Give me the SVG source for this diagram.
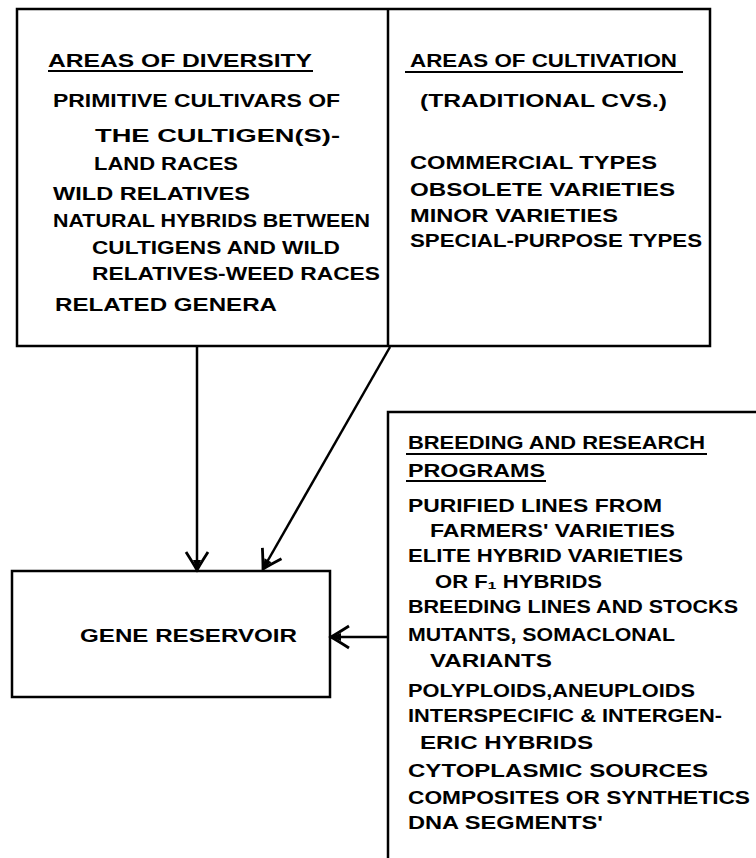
<svg xmlns="http://www.w3.org/2000/svg" width="756" height="858" viewBox="0 0 756 858">
<style>
.t{font-family:"Liberation Sans",Arial,sans-serif;font-weight:bold;font-size:19px;fill:#000}
.b{fill:none;stroke:#000;stroke-width:2.5}
.c{fill:none;stroke:#000;stroke-width:2.5}
.u{stroke:#000;stroke-width:2}
</style>
<defs>
<marker id="ah" markerUnits="userSpaceOnUse" markerWidth="30" markerHeight="30" viewBox="-20 -15 25 30" refX="0" refY="0" orient="auto">
<path d="M-18,-11 Q-7,-4 0,0 Q-7,4 -18,11" fill="none" stroke="#000" stroke-width="2.8"/>
<path d="M0,0 L-10,-4 L-10,4 Z" fill="#000"/>
</marker>
</defs>
<rect width="756" height="858" fill="#fff"/>
<g id="top-box">
<rect class="b" x="17" y="9" width="693" height="337"/>
<line class="b" x1="388" y1="9" x2="388" y2="346"/>
</g>
<g id="areas-of-diversity">
<text class="t" x="48" y="67" textLength="264" lengthAdjust="spacingAndGlyphs">AREAS OF DIVERSITY</text>
<line class="u" x1="48" y1="71" x2="313" y2="71"/>
<text class="t" x="53" y="107" textLength="287" lengthAdjust="spacingAndGlyphs">PRIMITIVE CULTIVARS OF</text>
<text class="t" x="95" y="142" textLength="245" lengthAdjust="spacingAndGlyphs">THE  CULTIGEN(S)-</text>
<text class="t" x="94" y="170" textLength="144" lengthAdjust="spacingAndGlyphs">LAND RACES</text>
<text class="t" x="53" y="200" textLength="197" lengthAdjust="spacingAndGlyphs">WILD RELATIVES</text>
<text class="t" x="53" y="227" textLength="317" lengthAdjust="spacingAndGlyphs">NATURAL HYBRIDS BETWEEN</text>
<text class="t" x="92" y="254" textLength="248" lengthAdjust="spacingAndGlyphs">CULTIGENS AND WILD</text>
<text class="t" x="92" y="280" textLength="288" lengthAdjust="spacingAndGlyphs">RELATIVES-WEED RACES</text>
<text class="t" x="55" y="311" textLength="222" lengthAdjust="spacingAndGlyphs">RELATED GENERA</text>
</g>
<g id="areas-of-cultivation">
<text class="t" x="410" y="67" textLength="267" lengthAdjust="spacingAndGlyphs">AREAS OF CULTIVATION</text>
<line class="u" x1="405" y1="72" x2="683" y2="72"/>
<text class="t" x="420" y="107" textLength="247" lengthAdjust="spacingAndGlyphs">(TRADITIONAL  CVS.)</text>
<text class="t" x="410" y="169" textLength="247" lengthAdjust="spacingAndGlyphs">COMMERCIAL TYPES</text>
<text class="t" x="410" y="196" textLength="265" lengthAdjust="spacingAndGlyphs">OBSOLETE VARIETIES</text>
<text class="t" x="410" y="222" textLength="208" lengthAdjust="spacingAndGlyphs">MINOR VARIETIES</text>
<text class="t" x="410" y="247" textLength="292" lengthAdjust="spacingAndGlyphs">SPECIAL-PURPOSE TYPES</text>
</g>
<g id="gene-reservoir">
<rect class="b" x="12" y="571" width="318" height="126"/>
<text class="t" x="80" y="642" textLength="217" lengthAdjust="spacingAndGlyphs">GENE RESERVOIR</text>
</g>
<g id="breeding-programs">
<path class="b" d="M756,412 H388 V858"/>
<text class="t" x="408" y="449" textLength="297" lengthAdjust="spacingAndGlyphs">BREEDING AND RESEARCH</text>
<line class="u" x1="406" y1="454" x2="707" y2="454"/>
<text class="t" x="408" y="477" textLength="137" lengthAdjust="spacingAndGlyphs">PROGRAMS</text>
<line class="u" x1="406" y1="481" x2="546" y2="481"/>
<text class="t" x="408" y="512" textLength="254" lengthAdjust="spacingAndGlyphs">PURIFIED LINES FROM</text>
<text class="t" x="430" y="537" textLength="245" lengthAdjust="spacingAndGlyphs">FARMERS' VARIETIES</text>
<text class="t" x="408" y="562" textLength="275" lengthAdjust="spacingAndGlyphs">ELITE HYBRID VARIETIES</text>
<text class="t" x="435" y="588" textLength="167" lengthAdjust="spacingAndGlyphs">OR F₁ HYBRIDS</text>
<text class="t" x="408" y="613" textLength="330" lengthAdjust="spacingAndGlyphs">BREEDING LINES AND STOCKS</text>
<text class="t" x="408" y="641" textLength="267" lengthAdjust="spacingAndGlyphs">MUTANTS, SOMACLONAL</text>
<text class="t" x="430" y="667" textLength="122" lengthAdjust="spacingAndGlyphs">VARIANTS</text>
<text class="t" x="408" y="697" textLength="287" lengthAdjust="spacingAndGlyphs">POLYPLOIDS,ANEUPLOIDS</text>
<text class="t" x="408" y="722" textLength="314" lengthAdjust="spacingAndGlyphs">INTERSPECIFIC &amp; INTERGEN-</text>
<text class="t" x="420" y="749" textLength="173" lengthAdjust="spacingAndGlyphs">ERIC  HYBRIDS</text>
<text class="t" x="408" y="777" textLength="300" lengthAdjust="spacingAndGlyphs">CYTOPLASMIC  SOURCES</text>
<text class="t" x="408" y="804" textLength="342" lengthAdjust="spacingAndGlyphs">COMPOSITES OR SYNTHETICS</text>
<text class="t" x="408" y="829" textLength="195" lengthAdjust="spacingAndGlyphs">DNA SEGMENTS'</text>
</g>
<g id="connectors">
<line class="c" x1="197" y1="347" x2="197" y2="570" marker-end="url(#ah)"/>
<line class="c" x1="390" y1="347" x2="263" y2="569" marker-end="url(#ah)"/>
<line class="c" x1="388" y1="637" x2="331" y2="637" marker-end="url(#ah)"/>
</g>
</svg>
